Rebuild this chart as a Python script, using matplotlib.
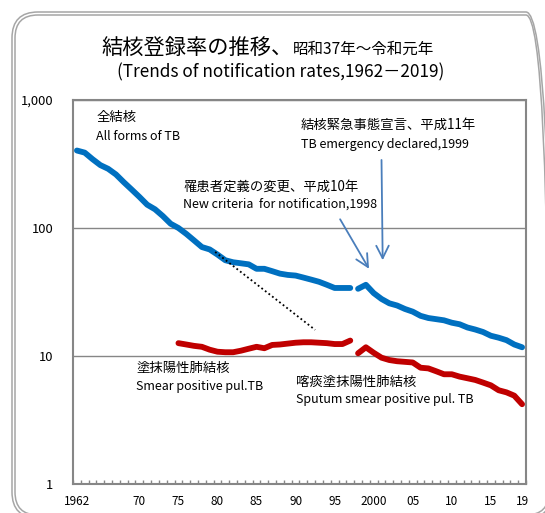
import matplotlib
matplotlib.use('Agg')
import matplotlib.pyplot as plt
from matplotlib.patches import FancyBboxPatch
from matplotlib.transforms import IdentityTransform
from matplotlib.ticker import FixedLocator, NullLocator

plt.rcParams['font.family'] = ['Noto Sans CJK JP', 'DejaVu Sans']

# all forms of TB (per 100,000), before / after the 1998 criteria change
all_years_old = list(range(1962, 1998))
all_rate_old = [403, 388, 345, 310, 290, 262, 228, 200, 175, 152, 140, 124,
                108, 100, 90, 80, 71, 68, 62, 56, 54, 53, 52, 48, 48, 46, 44,
                43, 42.5, 41, 39.5, 38, 36, 34, 34, 34]
all_years_new = list(range(1998, 2020))
all_rate_new = [33.5, 36, 31.0, 27.9, 25.8, 24.8, 23.3, 22.2, 20.6, 19.8, 19.4,
                19.0, 18.2, 17.7, 16.7, 16.1, 15.4, 14.4, 13.9, 13.3, 12.3, 11.7]

# smear positive pulmonary TB / sputum smear positive pulmonary TB
smear_years = list(range(1975, 1998))
smear_rate = [12.6, 12.3, 12.0, 11.8, 11.2, 10.8, 10.7, 10.7, 11.0, 11.4, 11.8,
              11.5, 12.2, 12.3, 12.5, 12.7, 12.8, 12.8, 12.7, 12.6, 12.4, 12.4, 13.2]
sputum_years = list(range(1998, 2020))
sputum_rate = [10.5, 11.7, 10.6, 9.7, 9.3, 9.1, 9.0, 8.9, 8.1, 8.0, 7.6, 7.2,
               7.2, 6.9, 6.7, 6.5, 6.2, 5.9, 5.4, 5.2, 4.9, 4.2]

# dotted trend line
trend_years = [1979.7, 1992.5]
trend_rate = [65, 16]

xtick_years = [1962, 1970, 1975, 1980, 1985, 1990, 1995, 2000, 2005, 2010, 2015, 2019]
xtick_labels = ['1962', '70', '75', '80', '85', '90', '95', '2000', '05', '10', '15', '19']
ytick_vals = [1, 10, 100, 1000]
ytick_labels = ['1', '10', '100', '1,000']

BLUE = '#0070C0'
RED = '#C00000'
GREY = '#868686'
ARROW = '#4A7EBB'

fig = plt.figure(figsize=(5.45, 5.13), dpi=100)
ax = fig.add_axes([73 / 545, 1 - 484 / 513, 453 / 545, 384 / 513])

# rounded double frame around the whole chart
for (x0, y0, w, h, r) in [(12, -5, 540, 506, 26), (15, -2, 534, 500, 23)]:
    fig.patches.append(FancyBboxPatch((x0, y0), w, h,
                                      boxstyle=f"round,pad=0,rounding_size={r}",
                                      transform=IdentityTransform(), fill=False,
                                      edgecolor='#A6A6A6', lw=1.1))

line_kw = dict(lw=4.2, solid_capstyle='round', solid_joinstyle='round')
ax.plot(all_years_old, all_rate_old, color=BLUE, **line_kw)
ax.plot(all_years_new, all_rate_new, color=BLUE, **line_kw)
ax.plot(smear_years, smear_rate, color=RED, **line_kw)
ax.plot(sputum_years, sputum_rate, color=RED, **line_kw)
ax.plot(trend_years, trend_rate, color='black', lw=1.3, ls=(0, (1, 1.5)))

ax.set_yscale('log')
ax.set_ylim(1, 1000)
ax.set_xlim(1961.5, 2019.5)
ax.yaxis.set_major_locator(FixedLocator(ytick_vals))
ax.yaxis.set_minor_locator(NullLocator())
ax.set_yticklabels(ytick_labels)
ax.set_xticks(xtick_years)
ax.set_xticklabels(xtick_labels)
ax.xaxis.set_minor_locator(FixedLocator([y + 0.5 for y in range(1961, 2020)]))
ax.tick_params(axis='y', length=0, pad=14, labelsize=9.3)
ax.tick_params(axis='x', which='major', length=0, pad=8, labelsize=8.5)
ax.tick_params(axis='x', which='minor', direction='in', length=3, color=GREY, width=1)
ax.grid(axis='y', which='major', color=GREY, lw=1)
for s in ax.spines.values():
    s.set_color(GREY)
    s.set_linewidth(1.5)

# labels
cjk = 9.6
lat = 9.0
ax.text(0.051, 0.956, '全結核', transform=ax.transAxes, fontsize=cjk, va='center')
ax.text(0.051, 0.904, 'All forms of TB', transform=ax.transAxes, fontsize=lat, va='center')
ax.text(0.503, 0.935, '結核緊急事態宣言、平成11年', transform=ax.transAxes, fontsize=cjk, va='center')
ax.text(0.503, 0.885, 'TB emergency declared,1999', transform=ax.transAxes, fontsize=lat, va='center')
ax.text(0.243, 0.774, '罹患者定義の変更、平成10年', transform=ax.transAxes, fontsize=cjk, va='center')
ax.text(0.243, 0.728, 'New criteria  for notification,1998', transform=ax.transAxes, fontsize=lat, va='center')
ax.text(0.139, 0.302, '塗抹陽性肺結核', transform=ax.transAxes, fontsize=cjk, va='center')
ax.text(0.139, 0.253, 'Smear positive pul.TB', transform=ax.transAxes, fontsize=lat, va='center')
ax.text(0.492, 0.266, '喀痰塗抹陽性肺結核', transform=ax.transAxes, fontsize=cjk, va='center')
ax.text(0.492, 0.219, 'Sputum smear positive pul. TB', transform=ax.transAxes, fontsize=lat, va='center')

arrow_kw = dict(arrowstyle='->,head_length=0.9,head_width=0.45', color=ARROW, lw=1.3,
                shrinkA=0, shrinkB=0)
ax.annotate('', xy=(1999.4, 48), xytext=(1995.7, 117), arrowprops=arrow_kw)
ax.annotate('', xy=(2001.15, 56), xytext=(2001.0, 340), arrowprops=arrow_kw)

# title
fig.text(293 / 545, 1 - 54 / 513, '結核登録率の推移、', fontsize=15.3, ha='right', va='baseline')
fig.text(293 / 545, 1 - 54 / 513, '昭和37年～令和元年', fontsize=11.2, ha='left', va='baseline')
fig.text(281 / 545, 1 - 72 / 513, '(Trends of notification rates,1962－2019)', fontsize=12.4,
         ha='center', va='center')

fig.savefig('out.png', dpi=100)
